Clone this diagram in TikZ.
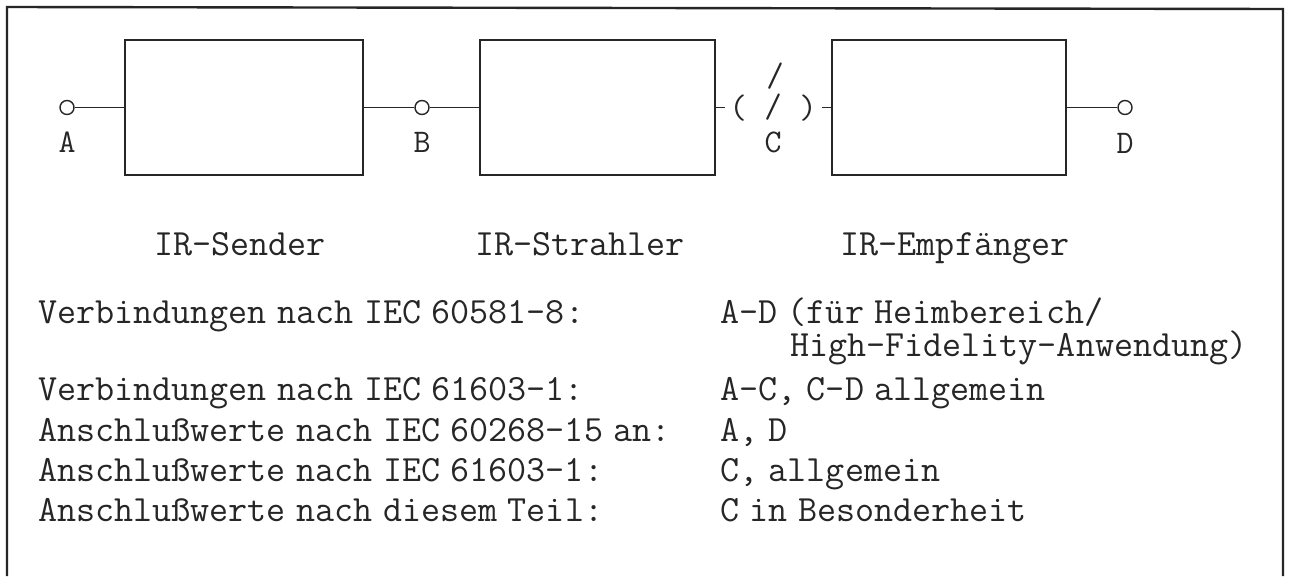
\documentclass[tikz,border=0pt]{standalone}
\usepackage{fontspec}
\newfontfamily\typew[WordSpace=0.55]{Latin Modern Mono}
\begin{document}
\begin{tikzpicture}[x=1pt,y=-1pt,
  frame/.style={line width=2.4pt,black!85},
  blockbox/.style={draw=black!85,line width=2.4pt,minimum height=135pt,inner sep=0pt},
  wire/.style={line width=1.5pt,black!85},
  term/.style={draw=black!85,line width=1.4pt,circle,minimum size=14pt,inner sep=0pt},
  lbl/.style={font=\typew\fontsize{33}{35}\selectfont,inner sep=0pt,black!85},
  txt/.style={font=\typew\fontsize{37}{39}\selectfont,inner sep=0pt,anchor=base west,black!85},
  blockcaption/.style={font=\typew\fontsize{37}{39}\selectfont,inner sep=0pt,anchor=base,black!85}]
\useasboundingbox (0,0) rectangle (1290,576);
\fill[white] (0,0) rectangle (1290,576);
% frame
\draw[frame] (7,576) -- (7,7) -- (1283,9) -- (1283,576);
% blocks
\node[blockbox,minimum width=238pt] (b1) at (244,107.5) {};
\node[blockbox,minimum width=235pt] (b2) at (597.5,107.5) {};
\node[blockbox,minimum width=234pt] (b3) at (949,107.5) {};
% terminals
\node[term] (ta) at (67,107.5) {};
\node[term] (tb) at (422,107.5) {};
\node[term] (td) at (1125,107.5) {};
\coordinate (t1) at (725,107.5);
\coordinate (t2) at (822,107.5);
\draw[wire] (ta) -- (b1.west);
\draw[wire] (b1.east) -- (tb);
\draw[wire] (tb) -- (b2.west);
\draw[wire] (b2.east) -- (t1);
\draw[wire] (t2) -- (b3.west);
\draw[wire] (b3.east) -- (td);
% air gap symbols
\node[lbl,font=\typew\fontsize{34}{36}\selectfont] (pl) at (738,108) {(};
\node[lbl,font=\typew\fontsize{34}{36}\selectfont] (pr) at (808,108) {)};
\node[lbl,font=\typew\fontsize{34}{36}\selectfont] (s1) at (775,76) {/};
\node[lbl,font=\typew\fontsize{34}{36}\selectfont] (s2) at (773,107) {/};
% terminal labels
\node[lbl] (la) at (67,142) {A};
\node[lbl] (lb) at (422,142) {B};
\node[lbl] (lc) at (773,142) {C};
\node[lbl] (ld) at (1125,143) {D};
% block captions
\node[blockcaption] (c1) at (240,255) {IR-Sender};
\node[blockcaption] (c2) at (580,255) {IR-Strahler};
\node[blockcaption] (c3) at (955,255) {IR-Empfänger};
% text table
\node[txt] (r1) at (38,323) {Verbindungen nach IEC 60581-8:};
\node[txt] (v1) at (720,323) {A-D (für Heimbereich/};
\node[txt] (v1b) at (790,356) {High-Fidelity-Anwendung)};
\node[txt] (r2) at (38,400) {Verbindungen nach IEC 61603-1:};
\node[txt] (v2) at (720,400) {A-C, C-D allgemein};
\node[txt] (r3) at (38,441) {Anschlußwerte nach IEC 60268-15 an:};
\node[txt] (v3) at (720,441) {A, D};
\node[txt] (r4) at (38,481) {Anschlußwerte nach IEC 61603-1:};
\node[txt] (v4) at (720,481) {C, allgemein};
\node[txt] (r5) at (38,521) {Anschlußwerte nach diesem Teil:};
\node[txt] (v5) at (720,521) {C in Besonderheit};
\end{tikzpicture}
\end{document}
